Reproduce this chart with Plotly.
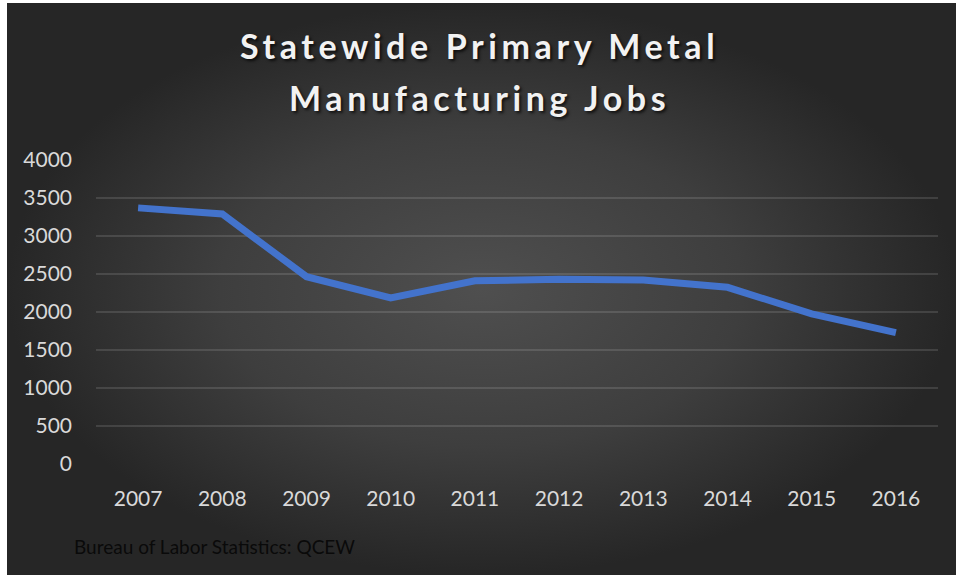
import plotly.graph_objects as go

# Statewide primary metal manufacturing employment (QCEW annual averages)
years = ["2007", "2008", "2009", "2010", "2011", "2012", "2013", "2014", "2015", "2016"]
jobs = [3370, 3290, 2465, 2185, 2410, 2430, 2420, 2325, 1975, 1728]

y_ticks = [0, 500, 1000, 1500, 2000, 2500, 3000, 3500, 4000]

title_lines = ["Statewide Primary Metal", "Manufacturing Jobs"]
source_note = "Bureau of Labor Statistics: QCEW"

W, H = 956, 576
BLUE = "#4373CC"
TICK_COLOR = "#D9D9D9"
FONT = "Lato"

fig = go.Figure()

# Dark chart-area panel with a soft radial highlight
fig.add_trace(go.Scatter(
    x=[0, 1, 1, 0, 0], y=[0, 0, 1, 1, 0],
    xaxis="x", yaxis="y",
    mode="lines", line=dict(width=0),
    fill="toself",
    fillgradient=dict(type="radial",
                      colorscale=[[0, "#4F4F4F"], [0.55, "#3E3E3E"], [1, "#262626"]]),
    hoverinfo="skip", showlegend=False,
))

# Data series
fig.add_trace(go.Scatter(
    x=years, y=jobs,
    xaxis="x2", yaxis="y2",
    mode="lines",
    line=dict(color=BLUE, width=7),
    showlegend=False,
))

plot_left, plot_right = 96, 938
plot_top, plot_bottom = 160, 464

fig.update_layout(
    width=W, height=H,
    margin=dict(l=0, r=0, t=0, b=0, pad=0),
    paper_bgcolor="white",
    plot_bgcolor="rgba(0,0,0,0)",
    showlegend=False,
    xaxis=dict(domain=[7 / W, 1], range=[0, 1], visible=False,
               fixedrange=True, automargin=False),
    yaxis=dict(domain=[1 / H, 573 / H], range=[0, 1], visible=False,
               fixedrange=True, automargin=False),
    xaxis2=dict(
        domain=[plot_left / W, plot_right / W],
        anchor="y2",
        type="category",
        range=[-0.5, len(years) - 0.5],
        automargin=False,
        showgrid=False, zeroline=False, showline=False,
        ticks="",
        tickfont=dict(family=FONT, size=21, color=TICK_COLOR),
        ticklabelstandoff=20,
    ),
    yaxis2=dict(
        domain=[(H - plot_bottom) / H, (H - plot_top) / H],
        anchor="x2",
        range=[0, 4000],
        tickvals=y_ticks,
        automargin=False,
        showgrid=True, gridcolor="rgba(255,255,255,0.12)", gridwidth=1.5,
        zeroline=False, showline=False,
        ticks="",
        tickfont=dict(family=FONT, size=21, color=TICK_COLOR),
        ticklabelstandoff=23,
    ),
)

title_font = dict(family=FONT, size=34, color="#F2F2F2", weight="bold",
                  shadow="2px 2px 3px rgba(0,0,0,0.7)")
for line, ypix in zip(title_lines, [45, 97]):
    fig.add_annotation(
        text=f'<span style="letter-spacing:4.6px">{line}</span>',
        xref="paper", yref="paper",
        x=479 / W, y=1 - ypix / H,
        xanchor="center", yanchor="middle",
        showarrow=False, font=title_font,
    )

fig.add_annotation(
    text=source_note, xref="paper", yref="paper",
    x=72 / W, y=1 - 546 / H,
    xanchor="left", yanchor="middle",
    showarrow=False,
    font=dict(family=FONT, size=19, color="#0A0A0A"),
)

fig.write_html("out.html")
